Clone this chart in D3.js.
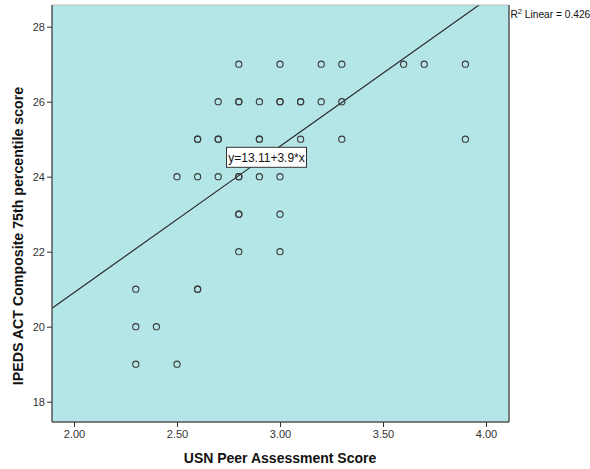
<!DOCTYPE html>
<html>
<head>
<meta charset="utf-8">
<script src="https://cdn.jsdelivr.net/npm/d3@7"></script>
<style>
  html, body { margin: 0; padding: 0; background: #fff; }
  svg { display: block; font-family: Arial, "Liberation Sans", sans-serif; }
</style>
</head>
<body>
<svg id="chart" width="590" height="469"></svg>
<script>
// Peer assessment score vs. ACT 75th percentile (one entry per institution)
const peerScore = [
  2.8, 3.0, 3.2, 3.3, 3.6, 3.7, 3.9,
  2.7, 2.8, 2.8, 2.9, 3.0, 3.0, 3.1, 3.1, 3.2, 3.3,
  2.6, 2.6, 2.7, 2.7, 2.9, 2.9, 3.1, 3.3, 3.9,
  2.5, 2.6, 2.7, 2.8, 2.8, 2.9, 3.0,
  2.8, 2.8, 3.0,
  2.8, 3.0,
  2.3, 2.6, 2.6,
  2.3, 2.4,
  2.3, 2.5
];
const actScore = [
  27, 27, 27, 27, 27, 27, 27,
  26, 26, 26, 26, 26, 26, 26, 26, 26, 26,
  25, 25, 25, 25, 25, 25, 25, 25, 25,
  24, 24, 24, 24, 24, 24, 24,
  23, 23, 23,
  22, 22,
  21, 21, 21,
  20, 20,
  19, 19
];
const xTicks = [2.0, 2.5, 3.0, 3.5, 4.0];
const yTicks = [18, 20, 22, 24, 26, 28];
const fitIntercept = 13.11;
const fitSlope = 3.9;
const rSquared = 0.426;

const svg = d3.select("#chart");
const plot = { left: 52, top: 5, right: 509, bottom: 422 };

const x = d3.scaleLinear().domain([2.0, 4.0]).range([74, 486]);
const y = d3.scaleLinear().domain([18, 28]).range([401.7, 26.7]);
const xMin = x.invert(plot.left), xMax = x.invert(plot.right);

// plot background
svg.append("rect")
  .attr("x", plot.left).attr("y", plot.top)
  .attr("width", plot.right - plot.left).attr("height", plot.bottom - plot.top)
  .attr("fill", "#b4e6e7");

svg.append("defs").append("clipPath").attr("id", "plotClip")
  .append("rect")
  .attr("x", plot.left).attr("y", plot.top)
  .attr("width", plot.right - plot.left).attr("height", plot.bottom - plot.top);

// fit line
const fitLine = d3.line().x(d => x(d)).y(d => y(fitIntercept + fitSlope * d));
svg.append("path")
  .attr("clip-path", "url(#plotClip)")
  .attr("d", fitLine([xMin, xMax]))
  .attr("fill", "none")
  .attr("stroke", "#2a2a2a")
  .attr("stroke-width", 1.2);

// points
svg.append("g").selectAll("circle")
  .data(peerScore.map((p, i) => [p, actScore[i]]))
  .join("circle")
  .attr("cx", d => x(d[0]))
  .attr("cy", d => y(d[1]))
  .attr("r", 3.1)
  .attr("fill", "none")
  .attr("stroke", "#3a3a3a")
  .attr("stroke-width", 1.1);

// frame
svg.append("line").attr("x1", plot.left).attr("x2", plot.right)
  .attr("y1", plot.top).attr("y2", plot.top)
  .attr("stroke", "#bbb").attr("stroke-width", 1.2);
svg.append("path")
  .attr("d", `M${plot.right},${plot.top}V${plot.bottom}`)
  .attr("stroke", "#555").attr("stroke-width", 1.5).attr("fill", "none");

// axes
const xAxis = d3.axisBottom(x).tickValues(xTicks).tickFormat(d3.format(".2f"))
  .tickSizeInner(5).tickSizeOuter(0).tickPadding(3);
const gx = svg.append("g").attr("transform", `translate(0,${plot.bottom})`).call(xAxis);
gx.select(".domain").attr("d", `M${plot.left},0H${plot.right}`).attr("stroke", "#555").attr("stroke-width", 1.5);

const yAxis = d3.axisLeft(y).tickValues(yTicks).tickFormat(d3.format("d"))
  .tickSizeInner(5).tickSizeOuter(0).tickPadding(2);
const gy = svg.append("g").attr("transform", `translate(${plot.left},0)`).call(yAxis);
gy.select(".domain").attr("d", `M0,${plot.top}V${plot.bottom}`).attr("stroke", "#555").attr("stroke-width", 1.5);

[gx, gy].forEach(g => {
  g.selectAll(".tick line").attr("stroke", "#333");
  g.selectAll(".tick text").attr("fill", "#333")
    .style("font-family", "Arial, 'Liberation Sans', sans-serif").style("font-size", "11px");
});

// axis titles
svg.append("text")
  .attr("x", 280).attr("y", 463)
  .attr("text-anchor", "middle")
  .style("font-size", "14px").style("font-weight", "bold")
  .attr("fill", "#111")
  .text("USN Peer Assessment Score");

svg.append("text")
  .attr("transform", "translate(23,236) rotate(-90)")
  .attr("text-anchor", "middle")
  .style("font-size", "14.2px").style("font-weight", "bold")
  .attr("fill", "#111")
  .text("IPEDS ACT Composite 75th percentile score");

// fit equation label
const eqX = 266.5, eqY = 157.3;
svg.append("rect")
  .attr("x", eqX - 40).attr("y", eqY - 10)
  .attr("width", 80).attr("height", 20)
  .attr("fill", "#fff").attr("stroke", "#333").attr("stroke-width", 1);
svg.append("text")
  .attr("x", eqX).attr("y", eqY + 4.5)
  .attr("text-anchor", "middle")
  .style("font-size", "12px")
  .attr("fill", "#111")
  .text(`y=${fitIntercept}+${fitSlope}*x`);

// R-squared note
const r2 = svg.append("text")
  .attr("x", 510.5).attr("y", 18)
  .style("font-size", "10.2px")
  .attr("fill", "#111");
r2.append("tspan").text("R");
r2.append("tspan").attr("dy", -4).style("font-size", "7.5px").text("2");
r2.append("tspan").attr("dy", 4).text(` Linear = ${rSquared}`);
</script>
</body>
</html>
